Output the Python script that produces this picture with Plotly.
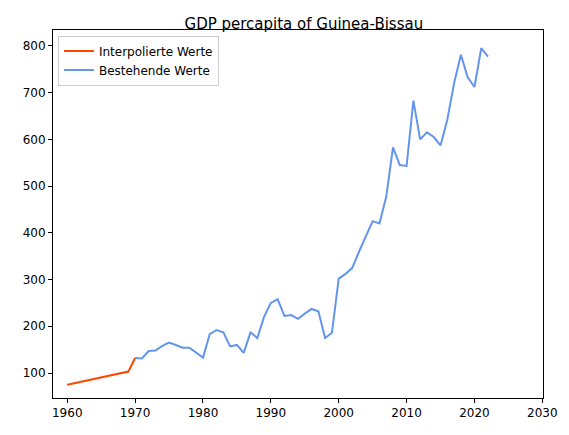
import plotly.graph_objects as go

interp_years = list(range(1960, 1971))
interp_values = [75, 78, 81, 84, 87, 90, 93, 96, 99, 103, 132]

years = list(range(1970, 2023))
values = [132, 131, 147, 148, 158, 165, 160, 154, 154, 143, 133, 183, 192, 187, 157,
          160, 143, 187, 175, 220, 250, 258, 222, 224, 216, 227, 237, 232, 175, 186,
          302, 312, 325, 360, 393, 425, 420, 477, 583, 545, 543, 683, 600, 615, 605,
          587, 642, 720, 781, 733, 712, 795, 777]

fig = go.Figure()
fig.add_trace(go.Scatter(x=interp_years, y=interp_values, mode='lines', name='Interpolierte Werte',
                         line=dict(color='#ff4500', width=2)))
fig.add_trace(go.Scatter(x=years, y=values, mode='lines', name='Bestehende Werte',
                         line=dict(color='#6495ed', width=2)))

axis = dict(showgrid=False, zeroline=False, showline=True, mirror=True, linecolor='black',
            ticks='outside', ticklen=4, tickcolor='black', tickfont=dict(size=12, color='black'))
fig.update_layout(
    width=569, height=435, template='plotly_white',
    font=dict(family='DejaVu Sans', color='black'),
    title=dict(text='GDP percapita of Guinea-Bissau', x=0.52, y=0.975, xanchor='center',
               font=dict(size=15)),
    margin=dict(l=45, r=34, t=22, b=45),
    xaxis=dict(axis, range=[1957.9, 2030.1], tickvals=list(range(1960, 2031, 10))),
    yaxis=dict(axis, range=[46.5, 834], tickvals=list(range(100, 801, 100))),
    legend=dict(x=0.01, y=0.985, xanchor='left', yanchor='top', bgcolor='white',
                bordercolor='#cccccc', borderwidth=1, font=dict(size=12)),
)
fig.write_html("out.html")
